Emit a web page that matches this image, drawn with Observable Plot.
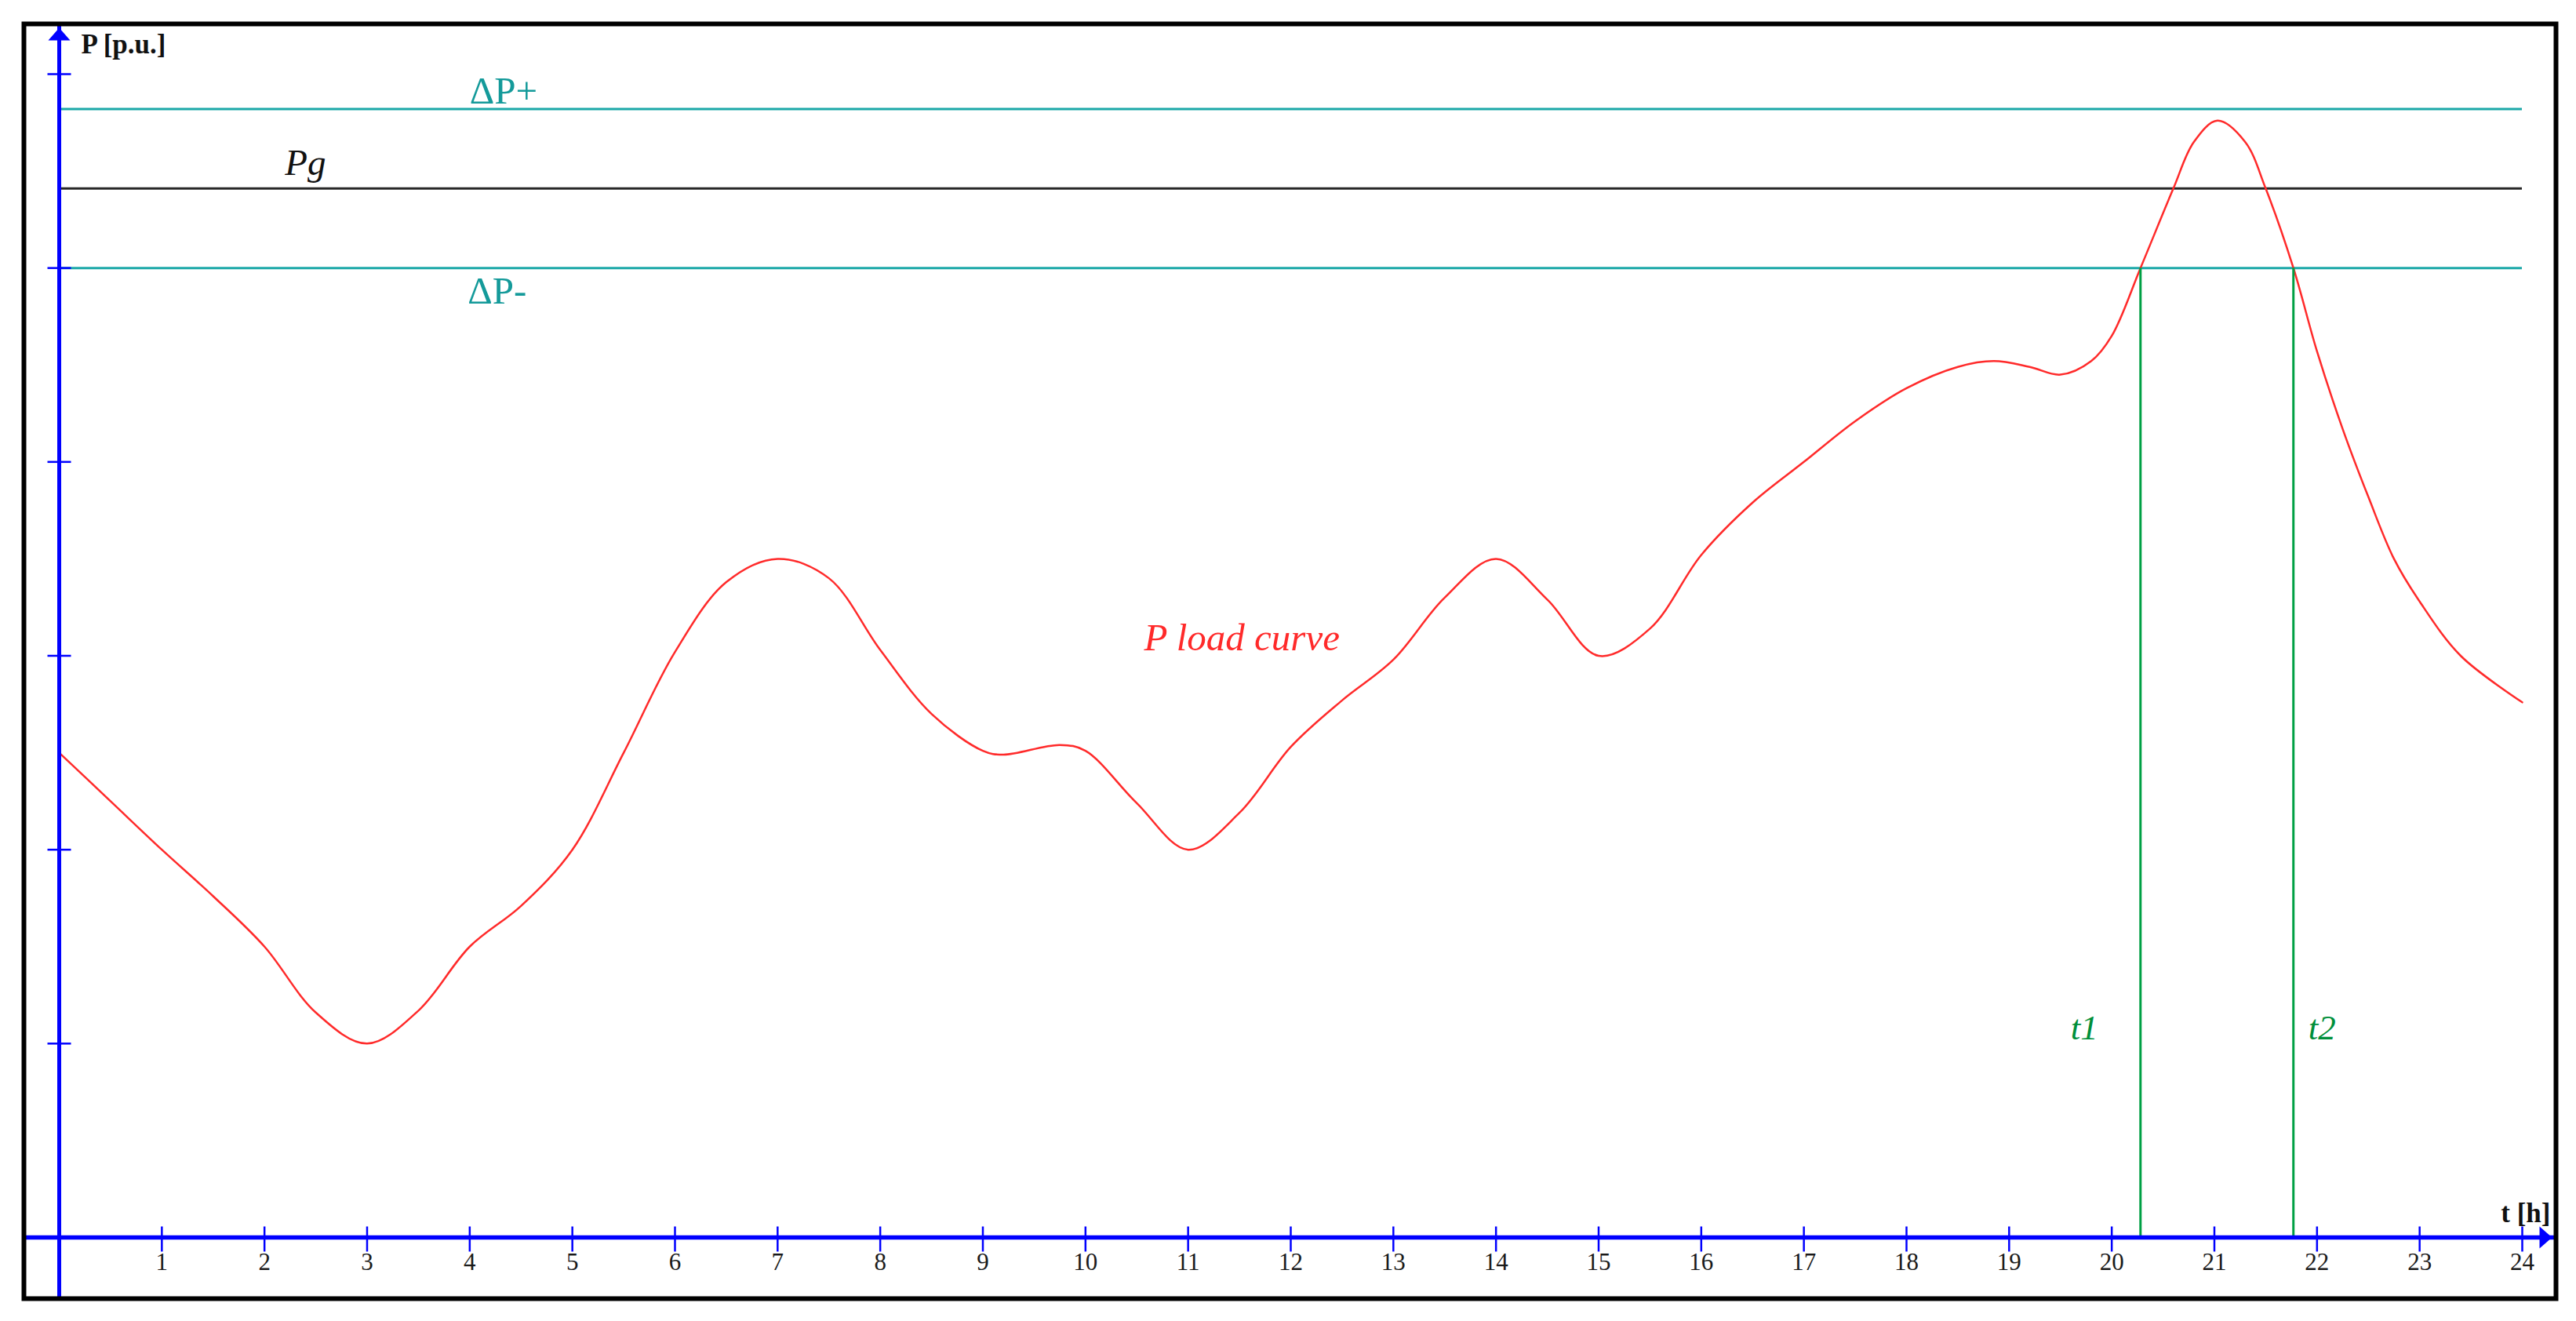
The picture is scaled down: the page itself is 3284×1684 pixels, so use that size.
<!DOCTYPE html>
<html>
<head>
<meta charset="utf-8">
<script src="https://cdn.jsdelivr.net/npm/d3@7"></script>
<script src="https://cdn.jsdelivr.net/npm/@observablehq/plot@0.6"></script>
<style>
  html, body { margin: 0; padding: 0; background: #ffffff; }
  svg { display: block; }
</style>
</head>
<body>
<script>
// ---- data ----
const loadT = [0, 0.5, 1, 1.5, 2, 2.5, 3, 3.5, 4, 4.5, 5, 5.5, 6, 6.5, 7, 7.5, 8, 8.5, 9, 9.2, 9.75, 10, 10.5, 11, 11.5, 12, 12.5, 13, 13.5, 14, 14.5, 15, 15.5, 16, 16.5, 17, 17.5, 18, 18.5, 18.85, 19.2, 19.5, 19.8, 20, 20.28, 20.6, 20.8, 21.03, 21.3, 21.5, 21.77, 22, 22.25, 22.5, 22.75, 23, 23.4, 24];
const loadP = [2.5, 2.25, 2.0, 1.76, 1.5, 1.16, 1.0, 1.17, 1.5, 1.71, 2.0, 2.5, 3.02, 3.38, 3.5, 3.4, 3.03, 2.7, 2.51, 2.49, 2.54, 2.51, 2.24, 2.0, 2.19, 2.53, 2.77, 2.98, 3.3, 3.5, 3.29, 3.0, 3.14, 3.52, 3.79, 4.0, 4.21, 4.38, 4.49, 4.52, 4.49, 4.45, 4.52, 4.65, 5.0, 5.41, 5.65, 5.76, 5.65, 5.41, 5.0, 4.57, 4.17, 3.82, 3.5, 3.28, 3.0, 2.76];

const levelNames = ["ΔP+", "Pg", "ΔP-"];
const levelValues = [5.82, 5.41, 5.0];

const crossNames = ["t1", "t2"];
const crossTimes = [20.28, 21.77];

const xTicks = [1, 2, 3, 4, 5, 6, 7, 8, 9, 10, 11, 12, 13, 14, 15, 16, 17, 18, 19, 20, 21, 22, 23, 24];
const yTicks = [1, 2, 3, 4, 5, 6];

const xLabel = "t [h]";
const yLabel = "P [p.u.]";
const curveLabel = "P load curve";

// ---- tables built from the arrays ----
const load = loadT.map((t, i) => ({t, p: loadP[i]}));
const levels = levelNames.map((name, i) => ({name, value: levelValues[i]}));
const crossings = crossNames.map((name, i) => ({name, t: crossTimes[i]}));
const lowerLevel = levels.find(d => d.name === "ΔP-").value;

// ---- styles ----
const BLUE = "#0000ff";
const TEAL = "#1ba8a8";
const TEAL_TEXT = "#149a9a";
const GREEN = "#00a044";
const GREEN_TEXT = "#008f3a";
const RED = "#ff2a2a";
const SERIF = "'Liberation Serif', 'Times New Roman', serif";

// custom symbols (pixel-sized glyphs for axis ticks and arrowheads)
const vTick = {draw(ctx) { ctx.moveTo(0, -14); ctx.lineTo(0, 18); }};
const hTick = {draw(ctx) { ctx.moveTo(-15, 0); ctx.lineTo(15, 0); }};
const arrowHead = {draw(ctx) { ctx.moveTo(0, 5); ctx.lineTo(14, 21); ctx.lineTo(-14, 21); ctx.closePath(); }};

const chart = Plot.plot({
  width: 3284,
  height: 1684,
  marginLeft: 30,
  marginRight: 26,
  marginTop: 30,
  marginBottom: 29,
  x: {domain: [0, 24], range: [75, 3215], axis: null},
  y: {domain: [0, 6], range: [1577, 94], axis: null},
  style: {fontFamily: SERIF, background: "#ffffff", overflow: "visible"},
  marks: [
    // horizontal levels
    Plot.ruleY(levels.filter(d => d.name !== "Pg"), {y: "value", x1: 0, x2: 24, stroke: TEAL, strokeWidth: 3}),
    Plot.ruleY(levels.filter(d => d.name === "Pg"), {y: "value", x1: 0, x2: 24, stroke: "#262626", strokeWidth: 3}),
    // load curve
    Plot.line(load, {x: "t", y: "p", curve: "catmull-rom", stroke: RED, strokeWidth: 2.5}),
    // crossing times
    Plot.ruleX(crossings, {x: "t", y1: 0, y2: lowerLevel, stroke: GREEN, strokeWidth: 3}),
    // axes
    Plot.ruleY([0], {stroke: BLUE, strokeWidth: 5.5}),
    Plot.ruleX([0], {stroke: BLUE, strokeWidth: 5}),
    Plot.dot(xTicks, {x: d => d, y: () => 0, symbol: vTick, fill: "none", stroke: BLUE, strokeWidth: 2.5}),
    Plot.dot(yTicks, {x: () => 0, y: d => d, symbol: hTick, fill: "none", stroke: BLUE, strokeWidth: 2.5}),
    Plot.dot([0], {x: d => d, frameAnchor: "top", symbol: arrowHead, fill: BLUE, stroke: "none"}),
    Plot.dot([0], {y: d => d, frameAnchor: "right", symbol: arrowHead, rotate: 90, fill: BLUE, stroke: "none"}),
    // tick labels
    Plot.text(xTicks, {x: d => d, y: () => 0, text: d => String(d), dy: 32, lineAnchor: "middle", fontSize: 31, fill: "#1a1a1a"}),
    // axis titles
    Plot.text([yLabel], {frameAnchor: "top-left", text: d => d, dx: 73, dy: 37, textAnchor: "start", lineAnchor: "bottom", fontSize: 35, fontWeight: "bold", fill: "#111"}),
    Plot.text([xLabel], {x: () => 24, y: () => 0, text: d => d, dx: 36, dy: -20, textAnchor: "end", lineAnchor: "bottom", fontSize: 35, fontWeight: "bold", fill: "#111"}),
    // level labels
    Plot.text(levels.filter(d => d.name === "ΔP+"), {x: () => 4, y: "value", text: "name", dy: -7, textAnchor: "start", lineAnchor: "bottom", fontSize: 49, fill: TEAL_TEXT, ariaLabel: "delta-label"}),
    Plot.text(levels.filter(d => d.name === "ΔP-"), {x: () => 3.98, y: "value", text: "name", dy: 45, textAnchor: "start", lineAnchor: "bottom", fontSize: 49, fill: TEAL_TEXT, ariaLabel: "delta-label"}),
    Plot.text(levels.filter(d => d.name === "Pg"), {x: () => 2.2, y: "value", text: "name", dy: -17, textAnchor: "start", lineAnchor: "bottom", fontSize: 47, fontStyle: "italic", fill: "#111"}),
    // crossing labels
    Plot.text(crossings.filter(d => d.name === "t1"), {x: "t", y: () => 1.02, text: "name", dx: -54, textAnchor: "end", lineAnchor: "bottom", fontSize: 45, fontStyle: "italic", fill: GREEN_TEXT}),
    Plot.text(crossings.filter(d => d.name === "t2"), {x: "t", y: () => 1.02, text: "name", dx: 19, textAnchor: "start", lineAnchor: "bottom", fontSize: 45, fontStyle: "italic", fill: GREEN_TEXT}),
    // curve label
    Plot.text([curveLabel], {x: () => 10.57, y: () => 3.03, text: d => d, textAnchor: "start", lineAnchor: "bottom", fontSize: 49, fontStyle: "italic", fill: RED}),
    // outer frame
    Plot.frame({stroke: "#000", strokeWidth: 6})
  ]
});

// Δ upright, P italic, sign upright
chart.querySelectorAll('g[aria-label="delta-label"] text').forEach(t => {
  const s = t.textContent;
  t.textContent = "";
  const ns = "http://www.w3.org/2000/svg";
  const parts = [[s.slice(0, 1), "normal"], [s.slice(1, 2), "italic"], [s.slice(2), "normal"]];
  for (const [str, style] of parts) {
    const ts = document.createElementNS(ns, "tspan");
    ts.setAttribute("font-style", style);
    ts.textContent = str;
    t.appendChild(ts);
  }
});

document.body.appendChild(chart);
</script>
</body>
</html>
